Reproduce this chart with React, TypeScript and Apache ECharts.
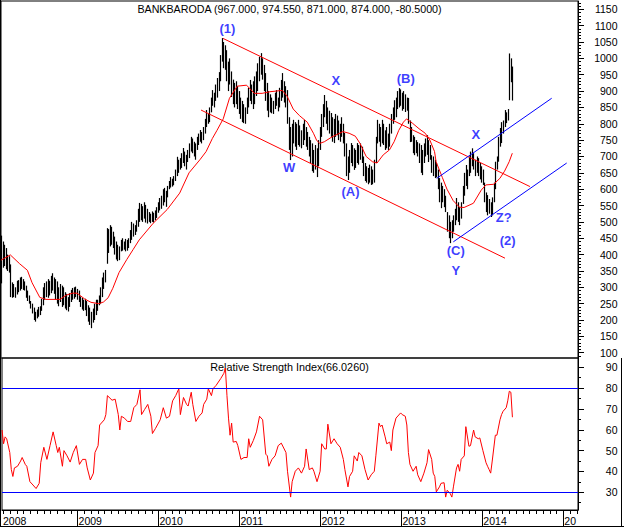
import React, { useEffect, useRef } from 'react';
import * as echarts from 'echarts';

// ---------- data ----------
const firstWeek = '2008-01-25T12:00:00Z';

const highs = [
  458, 440, 430, 420, 400, 395, 370, 315, 310, 300,
  320, 322, 330, 332, 325, 318, 305, 290, 275, 258,
  250, 238, 225, 232, 240, 242, 265, 300, 313, 318,
  325, 320, 335, 343, 330, 325, 318, 300, 310, 305,
  300, 285, 280, 270, 282, 292, 298, 300, 302, 295,
  290, 272, 268, 262, 265, 258, 245, 238, 225, 235,
  250, 262, 262, 275, 300, 330, 345, 353, 481, 478,
  490, 485, 470, 455, 440, 430, 425, 445, 450, 440,
  448, 445, 450, 475, 500, 495, 490, 505, 540, 558,
  555, 548, 560, 552, 540, 530, 525, 532, 528, 535,
  545, 560, 573, 580, 600, 604, 595, 610, 625, 637,
  632, 640, 660, 699, 690, 695, 710, 726, 715, 705,
  720, 740, 760, 755, 745, 740, 760, 770, 781, 775,
  790, 815, 842, 830, 850, 880, 903, 895, 920, 940,
  958, 1010, 1062, 1050, 1040, 1025, 990, 1000, 960, 935,
  925, 930, 915, 900, 880, 870, 860, 850, 880, 910,
  934, 920, 930, 945, 960, 985, 1005, 1016, 1000, 980,
  955, 925, 900, 890, 880, 870, 895, 903, 880, 910,
  934, 955, 930, 915, 903, 820, 790, 800, 812, 805,
  800, 812, 795, 780, 800, 812, 790, 775, 760, 750,
  740, 720, 735, 725, 750, 790, 830, 860, 888, 870,
  850, 840, 833, 820, 815, 830, 825, 810, 800, 820,
  800, 772, 740, 700, 720, 741, 735, 725, 720, 741,
  735, 740, 730, 700, 680, 670, 665, 675, 670, 660,
  690, 760, 812, 800, 790, 812, 800, 780, 790, 770,
  800, 830, 850, 872, 880, 900, 909, 905, 895, 900,
  890, 880, 879, 810, 790, 765, 760, 750, 744, 740,
  735, 720, 740, 755, 765, 750, 735, 704, 700, 690,
  680, 660, 634, 620, 610, 600, 580, 530, 520, 500,
  505, 520, 540, 573, 560, 545, 560, 610, 650, 674,
  660, 700, 715, 725, 710, 690, 700, 695, 680, 670,
  660, 620, 590, 582, 570, 560, 575, 620, 684, 700,
  760, 787, 805, 810, 842, 835, 845, 1015, 1000, 975,
];

const lows = [
  312, 360, 365, 355, 350, 345, 270, 268, 270, 268,
  278, 285, 290, 295, 292, 290, 268, 258, 250, 235,
  220, 200, 195, 205, 210, 215, 228, 245, 262, 270,
  268, 275, 282, 290, 280, 262, 250, 242, 255, 240,
  245, 235, 230, 226, 240, 255, 262, 265, 270, 262,
  255, 240, 232, 228, 230, 212, 195, 185, 175, 192,
  200, 215, 228, 245, 250, 270, 295, 315, 372, 405,
  425, 430, 420, 400, 385, 380, 383, 410, 412, 415,
  410, 412, 420, 435, 445, 455, 460, 470, 485, 500,
  505, 500, 510, 498, 495, 500, 496, 500, 498, 505,
  512, 528, 535, 540, 550, 560, 546, 575, 600, 605,
  608, 612, 625, 640, 650, 660, 665, 680, 670, 660,
  683, 695, 715, 710, 700, 690, 720, 735, 745, 740,
  750, 770, 790, 800, 805, 835, 855, 850, 870, 880,
  900, 930, 990, 970, 965, 930, 900, 920, 882, 860,
  850, 860, 845, 830, 815, 805, 802, 800, 830, 850,
  870, 860, 845, 860, 885, 900, 930, 950, 935, 900,
  870, 840, 820, 835, 832, 830, 845, 855, 838, 850,
  870, 880, 865, 850, 800, 720, 689, 700, 740, 730,
  720, 735, 730, 725, 735, 750, 730, 720, 700, 680,
  655, 650, 660, 637, 670, 720, 760, 790, 820, 800,
  780, 770, 760, 745, 741, 760, 765, 750, 745, 760,
  740, 700, 640, 628, 650, 680, 670, 659, 665, 680,
  675, 690, 680, 640, 625, 620, 615, 620, 613, 615,
  620, 680, 740, 745, 730, 740, 735, 720, 725, 720,
  730, 770, 800, 812, 820, 845, 850, 855, 840, 845,
  836, 840, 800, 744, 745, 710, 704, 710, 700, 680,
  650, 643, 680, 700, 705, 683, 690, 650, 640, 634,
  636, 600, 560, 542, 560, 545, 530, 470, 450, 435,
  450, 470, 490, 505, 500, 490, 510, 555, 580, 610,
  600, 640, 650, 670, 660, 640, 650, 640, 630, 620,
  613, 560, 530, 520, 525, 515, 520, 560, 600, 660,
  684, 730, 741, 770, 790, 802, 810, 872, 927, 871,
];

// moving average: [week number, value]
const maPoints: [number, number][] = [
  [0, 383], [6, 399], [12, 372], [17, 352], [20, 314], [25, 269], [29, 263], [38, 263],
  [42, 276], [46, 282], [49, 282], [54, 264], [58, 254], [63, 250], [66, 255], [69, 268],
  [72, 297], [76, 345], [81, 385], [85, 415], [89, 445], [98, 496], [107, 538], [115, 588],
  [121, 650], [128, 690], [132, 715], [136, 755], [139, 780], [143, 815], [147, 878],
  [152, 915], [158, 918], [163, 893], [168, 893], [173, 898], [181, 902], [184, 885],
  [188, 845], [192, 825], [197, 805], [201, 771], [203, 750], [205, 740], [208, 745],
  [213, 760], [220, 776], [224, 771], [228, 762], [231, 740], [235, 700], [239, 684],
  [242, 680], [246, 705], [250, 720], [253, 745], [256, 780], [259, 805], [261, 815],
  [265, 801], [269, 785], [273, 771], [276, 750], [279, 715], [280, 684], [284, 636],
  [287, 600], [291, 565], [295, 545], [298, 544], [304, 557], [309, 597], [312, 613],
  [317, 615], [321, 633], [324, 655], [327, 684], [329, 710],
];

// RSI: [week number, value]
const rsiPoints: [number, number][] = [
  [0, 59.9], [1, 53.3], [2, 56.6], [3, 55.7], [5, 49.1], [6, 40.9], [7, 37.6], [8, 41.7],
  [10, 42.5], [12, 45], [13, 46.7], [15, 43.4], [16, 42.5], [18, 35.1], [20, 33.5], [22, 31.8],
  [24, 34.3], [25, 44.2], [27, 51.6], [29, 45.8], [31, 52.4], [33, 59], [35, 52.4], [36, 49.1],
  [37, 51.6], [39, 42.5], [40, 50], [42, 47.5], [44, 44.5], [46, 49.1], [48, 52.4], [50, 43.4],
  [52, 45.8], [54, 45.8], [55, 41.7], [57, 35.9], [59, 39.2], [60, 49.1], [62, 52.4], [63, 62.3],
  [66, 64.8], [67, 67.3], [68, 76.4], [71, 74.2], [73, 74.7], [75, 67.3], [76, 59.9], [77, 66.5],
  [79, 65.6], [81, 64], [83, 64], [85, 70.6], [87, 72.2], [89, 79.2], [90, 67.3], [92, 69.8],
  [94, 72.2], [96, 66.5], [97, 58.2], [99, 60.7], [102, 64.8], [104, 70.6], [106, 65.6],
  [108, 66.5], [110, 73.9], [112, 76.4], [114, 79.7], [115, 67.3], [117, 75.5], [119, 72.2],
  [120, 71.4], [122, 78], [123, 72.2], [125, 64], [127, 66.5], [129, 68.1], [130, 72.2],
  [132, 74.7], [133, 79.7], [135, 76.4], [136, 79.7], [138, 81.3], [141, 84.6], [143, 87.1],
  [144, 89.6], [145, 76.4], [146, 65.6], [147, 57.4], [148, 63.2], [149, 54.1], [151, 54.4],
  [152, 52.4], [154, 45.8], [156, 46.7], [158, 46.7], [159, 55.7], [160, 51.6], [162, 54.9],
  [164, 59], [166, 66.5], [168, 64.8], [170, 48.3], [171, 47.5], [172, 42.5], [174, 45.8],
  [176, 47.5], [178, 52.4], [180, 53.6], [183, 49.1], [184, 40.1], [186, 27.7], [187, 35.1],
  [189, 40.1], [191, 41.7], [193, 39.2], [195, 42.5], [196, 50.8], [198, 40.9], [200, 41.7],
  [201, 40.1], [203, 35.1], [205, 40.1], [206, 53.3], [208, 50.8], [209, 50.8], [210, 62.7],
  [212, 53.3], [214, 55.7], [216, 53.3], [218, 51.6], [220, 45.8], [221, 40.9], [223, 32.6],
  [224, 37.6], [226, 40.1], [227, 47.5], [229, 45], [230, 49.1], [232, 47.5], [234, 40.9],
  [236, 35.9], [238, 38.4], [240, 40.1], [241, 47.5], [243, 63.2], [244, 61.5], [245, 62.3],
  [247, 56.6], [248, 53.3], [250, 54.1], [251, 50], [252, 59.9], [254, 65.6], [257, 68.1],
  [258, 67.3], [260, 66.5], [261, 62.3], [262, 49.1], [263, 43.4], [265, 40.1], [267, 42.5],
  [268, 38.4], [270, 35.1], [272, 39.2], [274, 44.2], [275, 50.5], [277, 45.8], [278, 39.2],
  [279, 37.6], [280, 30.2], [282, 32.6], [283, 34.3], [285, 34.6], [286, 27.7], [287, 31],
  [289, 29.3], [290, 27.7], [291, 32.6], [293, 41.7], [294, 43.4], [295, 40.1], [296, 45.8],
  [298, 47.5], [299, 61.5], [301, 52.1], [302, 52.4], [304, 59.9], [305, 56.6], [307, 55.7],
  [308, 56.1], [310, 50], [312, 44.2], [313, 42.5], [314, 40.9], [315, 39.2], [316, 45],
  [318, 57.4], [319, 57.4], [321, 64.8], [322, 67.3], [323, 68.9], [325, 70.6], [326, 73.9],
  [327, 78.5], [328, 78], [329, 66.03],
];

const rsiLevels = [80, 30];
const priceTicks = [100, 150, 200, 250, 300, 350, 400, 450, 500, 550, 600, 650, 700, 750, 800, 850, 900, 950, 1000, 1050, 1100, 1150];
const rsiTicks = [30, 40, 50, 60, 70, 80, 90];
const yearTicks = [2009, 2010, 2011, 2012, 2013, 2014, 2015];
// labels as printed under the axis (the last one is cut at the panel edge)
const yearLabels = ['2008', '2009', '2010', '2011', '2012', '2013', '2014', '20'];

// trend channels: [[decimal year, price], [decimal year, price]]
const redChannel: [number, number][][] = [
  [[2010.804, 1061], [2014.589, 608]],
  [[2010.533, 842], [2014.281, 389]],
];
const blueChannel: [number, number][][] = [
  [[2013.439, 633], [2014.857, 878]],
  [[2013.644, 439], [2015.042, 680]],
];

// wave labels: [text, decimal year, price]
const waveLabels: [string, number, number][] = [
  ['(1)', 2010.859, 1090],
  ['X', 2012.195, 931],
  ['W', 2011.618, 665],
  ['(A)', 2012.376, 594],
  ['(B)', 2013.058, 937],
  ['X', 2013.921, 766],
  ['(C)', 2013.674, 411],
  ['Y', 2013.674, 350],
  ['Z?', 2014.266, 512],
  ['(2)', 2014.314, 443],
];

const titleText = 'BANKBARODA (967.000, 974.550, 871.000, 874.000, -80.5000)';
const rsiTitle = 'Relative Strength Index(66.0260)';

// ---------- helpers ----------
const FONT = '"Liberation Sans", Arial, sans-serif';
const X_MIN = 2008.0666;
const X_MAX = 2015.1813;
const P_MIN = 83.8;
const P_MAX = 1175.4;
const R_MIN = 21.5;
const R_MAX = 94.46;

function decimalYear(ms: number) {
  const d = new Date(ms);
  const y = d.getUTCFullYear();
  const s = Date.UTC(y, 0, 1);
  const e = Date.UTC(y + 1, 0, 1);
  return y + (ms - s) / (e - s);
}
const t0 = Date.parse(firstWeek);
const weekTime = (i: number) => decimalYear(t0 + i * 7 * 86400000);

const monthTicks: number[] = [];
for (let y = 2008; y <= 2015; y++) {
  for (let m = 1; m < 12; m++) {
    const v = y + m / 12;
    if (v > X_MIN && v < X_MAX) monthTicks.push(v);
  }
}
const priceMinor: number[] = [];
for (let v = 90; v <= 1170; v += 10) if (v % 50 !== 0 && v > P_MIN && v < P_MAX) priceMinor.push(v);
const rsiMinor: number[] = [];
for (let v = 25; v <= 90; v += 10) if (v > R_MIN && v < R_MAX) rsiMinor.push(v);

const yearLabelValues = [X_MIN, ...yearTicks];

export default function App() {
  const ref = useRef<HTMLDivElement>(null);
  useEffect(() => {
    if (!ref.current) return;
    const chart = echarts.init(ref.current, undefined, { renderer: 'svg' });
    const black = { color: '#000', width: 1 };
    const labelBase = { color: '#000', fontSize: 10.5, fontFamily: FONT };
    const emptyLabels = (vals: number[]) => ({ show: true, customValues: vals, formatter: () => '' });

    const bars = highs.map((h, i) => [weekTime(i), h, lows[i]]);

    const channelSeries = [
      ...redChannel.map((seg) => ({ seg, color: '#ff0000' })),
      ...blueChannel.map((seg) => ({ seg, color: '#0000ff' })),
    ].map(({ seg, color }) => ({
      type: 'line',
      xAxisIndex: 0,
      yAxisIndex: 0,
      data: seg,
      symbol: 'none',
      silent: true,
      lineStyle: { color, width: 1 },
    }));

    chart.setOption({
      animation: false,
      backgroundColor: '#fff',
      grid: [
        { left: 1, top: 1, width: 577, height: 357, show: true, borderColor: '#000', borderWidth: 1 },
        { left: 1, top: 358, width: 577, height: 152, show: true, borderColor: '#000', borderWidth: 1 },
      ],
      xAxis: [
        { gridIndex: 0, type: 'value', position: 'bottom', min: X_MIN, max: X_MAX, show: false },
        {
          gridIndex: 1, type: 'value', position: 'bottom', min: X_MIN, max: X_MAX,
          axisLine: { show: true, lineStyle: black },
          axisTick: { show: true, customValues: monthTicks, length: 4, lineStyle: black },
          axisLabel: emptyLabels(monthTicks),
          splitLine: { show: false },
        },
        {
          gridIndex: 1, type: 'value', position: 'bottom', min: X_MIN, max: X_MAX,
          axisLine: { show: false },
          axisTick: { show: true, customValues: yearTicks, length: 17, lineStyle: black },
          axisLabel: {
            show: true,
            customValues: yearLabelValues,
            formatter: (v: number) => {
              const k = yearLabelValues.findIndex((u) => Math.abs(u - v) < 1e-6);
              return k >= 0 ? yearLabels[k] : '';
            },
            align: 'left',
            margin: 5,
            padding: [0, 0, 0, 1],
            ...labelBase,
          },
          splitLine: { show: false },
        },
      ],
      yAxis: [
        {
          gridIndex: 0, type: 'value', position: 'right', min: P_MIN, max: P_MAX,
          axisLine: { show: true, lineStyle: black },
          axisTick: { show: true, customValues: priceTicks, length: 6, lineStyle: black },
          axisLabel: { show: true, customValues: priceTicks, align: 'right', margin: 39.5, formatter: (v: number) => String(v), ...labelBase },
          splitLine: { show: false },
        },
        {
          gridIndex: 0, type: 'value', position: 'right', min: P_MIN, max: P_MAX,
          axisLine: { show: false },
          axisTick: { show: true, customValues: priceMinor, length: 3, lineStyle: black },
          axisLabel: emptyLabels(priceMinor),
          splitLine: { show: false },
        },
        {
          gridIndex: 1, type: 'value', position: 'right', min: R_MIN, max: R_MAX,
          axisLine: { show: true, lineStyle: black },
          axisTick: { show: true, customValues: rsiTicks, length: 6, lineStyle: black },
          axisLabel: { show: true, customValues: rsiTicks, align: 'right', margin: 39.5, formatter: (v: number) => String(v), ...labelBase },
          splitLine: { show: false },
        },
        {
          gridIndex: 1, type: 'value', position: 'right', min: R_MIN, max: R_MAX,
          axisLine: { show: false },
          axisTick: { show: true, customValues: rsiMinor, length: 3, lineStyle: black },
          axisLabel: emptyLabels(rsiMinor),
          splitLine: { show: false },
        },
      ],
      series: [
        {
          type: 'custom',
          xAxisIndex: 0,
          yAxisIndex: 0,
          data: bars,
          encode: { x: 0, y: [1, 2] },
          silent: true,
          renderItem: (_params: any, api: any) => {
            const t = api.value(0);
            const a = api.coord([t, api.value(1)]);
            const b = api.coord([t, api.value(2)]);
            const x = Math.round(a[0]) + 0.5;
            return {
              type: 'line',
              shape: { x1: x, y1: a[1], x2: x, y2: b[1] },
              style: { stroke: '#000', lineWidth: 1.2 },
            };
          },
        },
        {
          type: 'line',
          xAxisIndex: 0,
          yAxisIndex: 0,
          data: maPoints.map(([i, v]) => [weekTime(i), v]),
          symbol: 'none',
          silent: true,
          lineStyle: { color: '#ff0000', width: 1 },
        },
        ...channelSeries,
        {
          type: 'scatter',
          xAxisIndex: 0,
          yAxisIndex: 0,
          symbolSize: 0,
          silent: true,
          itemStyle: { color: 'transparent' },
          data: waveLabels.map(([name, t, p]) => ({ name, value: [t, p] })),
          label: {
            show: true,
            position: 'inside',
            formatter: (p: any) => p.name,
            color: '#0a0aff',
            fontWeight: 'bold',
            fontSize: 13,
            fontFamily: FONT,
            align: 'center',
            verticalAlign: 'middle',
          },
        },
        {
          type: 'line',
          xAxisIndex: 1,
          yAxisIndex: 2,
          data: rsiPoints.map(([i, v]) => [weekTime(i), v]),
          symbol: 'none',
          silent: true,
          lineStyle: { color: '#ff0000', width: 1 },
          markLine: {
            silent: true,
            symbol: ['none', 'none'],
            label: { show: false },
            lineStyle: { color: '#0000ff', type: 'solid', width: 1 },
            data: rsiLevels.map((v) => ({ yAxis: v })),
          },
        },
      ],
      graphic: [
        {
          type: 'text', x: 289.5, y: 9.3, silent: true,
          style: { text: titleText, fill: '#000', font: `10.7px ${FONT}`, textAlign: 'center', textVerticalAlign: 'middle' },
        },
        {
          type: 'text', x: 289.5, y: 367.3, silent: true,
          style: { text: rsiTitle, fill: '#000', font: `10.8px ${FONT}`, textAlign: 'center', textVerticalAlign: 'middle' },
        },
        { type: 'line', silent: true, shape: { x1: 0, y1: 526.5, x2: 624, y2: 526.5 }, style: { stroke: '#000', lineWidth: 1 } },
        { type: 'line', silent: true, shape: { x1: 0.5, y1: 0, x2: 0.5, y2: 527 }, style: { stroke: '#000', lineWidth: 1 } },
        { type: 'line', silent: true, shape: { x1: 621.5, y1: 358, x2: 621.5, y2: 527 }, style: { stroke: '#000', lineWidth: 1 } },
      ],
    });
    return () => chart.dispose();
  }, []);

  return (
    <div
      ref={ref}
      style={{ position: 'absolute', left: 0, top: 0, width: 624, height: 529, background: '#fff' }}
    />
  );
}
